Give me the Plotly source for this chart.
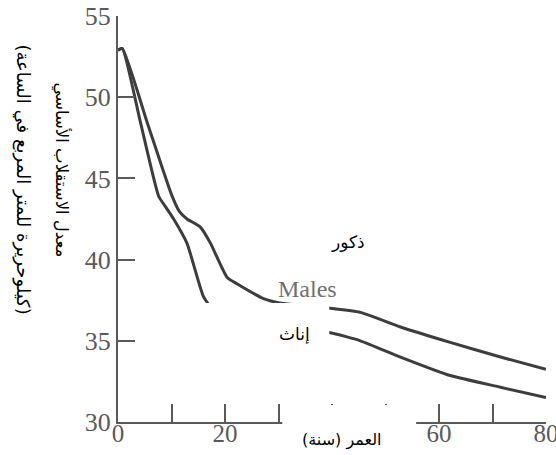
import plotly.graph_objects as go

# ---- data ----
male_age = [0, 0.8, 5.5, 10.0, 11.5, 12.9, 15.4, 17.3, 20.4, 22.3, 27.2, 30, 35, 39.7, 45.3, 52.8, 62.1, 71.5, 80]
male_bmr = [52.9, 53.0, 48.4, 44.0, 42.95, 42.5, 42.0, 41.0, 38.9, 38.5, 37.6, 37.35, 37.15, 37.0, 36.75, 35.85, 34.9, 34.0, 33.25]

female_age = [0, 0.8, 4.2, 7.6, 9.0, 10.4, 12.9, 16.0, 18.0, 20, 25, 30, 35, 39.7, 45.3, 52.8, 62.1, 71.5, 80]
female_bmr = [52.9, 53.0, 48.45, 43.9, 43.2, 42.5, 41.0, 37.7, 36.8, 36.4, 36.0, 35.8, 35.65, 35.5, 35.0, 34.0, 32.86, 32.14, 31.5]

x_tickvals = [0, 10, 20, 30, 40, 50, 60, 70, 80]
x_ticktext = ["0", "", "20", "", "", "", "60", "", "80"]
y_tickvals = [30, 35, 40, 45, 50, 55]

RLM = "\u200F"
ytitle1 = "معدل الاستقلاب الأساسي"
ytitle2 = "(كيلوحريرة للمتر المربع في الساعة)"
xtitle = "العمر (سنة)"
lab_m_ar = "ذكور"
lab_f_ar = "إناث"
lab_m_en = "Males"

W, H = 556, 455
L, R, T, B = 117.5, 10, 16, 33
pw, ph = W - L - R, H - T - B

def px(x):
    return (x - L) / pw

def py(y):
    return (H - B - y) / ph

line_col = "#3d3d3d"
axis_col = "#5a5a5a"

fig = go.Figure()
fig.add_trace(go.Scatter(x=male_age, y=male_bmr, mode="lines",
                         line=dict(color=line_col, width=3, shape="spline", smoothing=0.5),
                         showlegend=False, hoverinfo="skip"))
fig.add_trace(go.Scatter(x=female_age, y=female_bmr, mode="lines",
                         line=dict(color=line_col, width=3, shape="spline", smoothing=0.5),
                         showlegend=False, hoverinfo="skip"))

serif = "Liberation Serif, Times New Roman, serif"
arab = "DejaVu Sans, Arial, sans-serif"

fig.update_layout(
    width=W, height=H,
    margin=dict(l=L, r=R, t=T, b=B, pad=0),
    paper_bgcolor="white", plot_bgcolor="white",
    xaxis=dict(range=[0, 80], tickvals=x_tickvals, ticktext=x_ticktext,
               ticks="inside", ticklen=18, tickwidth=1.5, tickcolor=axis_col,
               showline=True, linecolor=axis_col, linewidth=2, showgrid=False, zeroline=False,
               automargin=False, ticklabeloverflow="allow",
               tickfont=dict(family=serif, size=25, color=axis_col)),
    yaxis=dict(range=[30, 55], tickvals=y_tickvals,
               ticks="inside", ticklen=17, tickwidth=1.5, tickcolor=axis_col,
               showline=True, linecolor=axis_col, linewidth=2, showgrid=False, zeroline=False,
               automargin=False, ticklabeloverflow="allow",
               tickfont=dict(family=serif, size=26, color=axis_col)),
    shapes=[
        dict(type="rect", xref="paper", yref="paper", layer="above",
             x0=px(200), x1=px(329), y0=py(354), y1=py(303),
             fillcolor="white", line=dict(width=0)),
        dict(type="rect", xref="paper", yref="paper", layer="above",
             x0=px(282), x1=px(416), y0=py(456), y1=py(405),
             fillcolor="white", line=dict(width=0)),
    ],
)

try:
    fig.update_xaxes(ticklabelstandoff=-12)
except Exception:
    # fall back: draw x tick labels as annotations on the x scale
    fig.update_xaxes(showticklabels=False)
    for v, t in zip(x_tickvals, x_ticktext):
        if t:
            fig.add_annotation(text=t, xref="x", yref="paper", x=v, y=py(433),
                               xanchor="center", yanchor="middle", showarrow=False,
                               font=dict(family=serif, size=25, color=axis_col))

def ann(text, x, y, size, family=arab, color="black", angle=0):
    fig.add_annotation(text=text, xref="paper", yref="paper", x=px(x), y=py(y),
                       xanchor="center", yanchor="middle", showarrow=False,
                       textangle=angle, font=dict(family=family, size=size, color=color))

ann(RLM + ytitle1 + RLM, 61, 170, 16.5, angle=90)
ann(RLM + ytitle2 + RLM, 22, 179, 18, angle=90)
ann(RLM + lab_m_ar + RLM, 348, 242, 17)
ann(lab_m_en, 307, 289, 24, family=serif, color="#707070")
ann(RLM + lab_f_ar + RLM, 294, 334, 17)
ann(RLM + xtitle + RLM, 342, 440, 16)

fig.write_html("out.html", config={"displayModeBar": False},
               post_script="document.body.style.margin='0';")
